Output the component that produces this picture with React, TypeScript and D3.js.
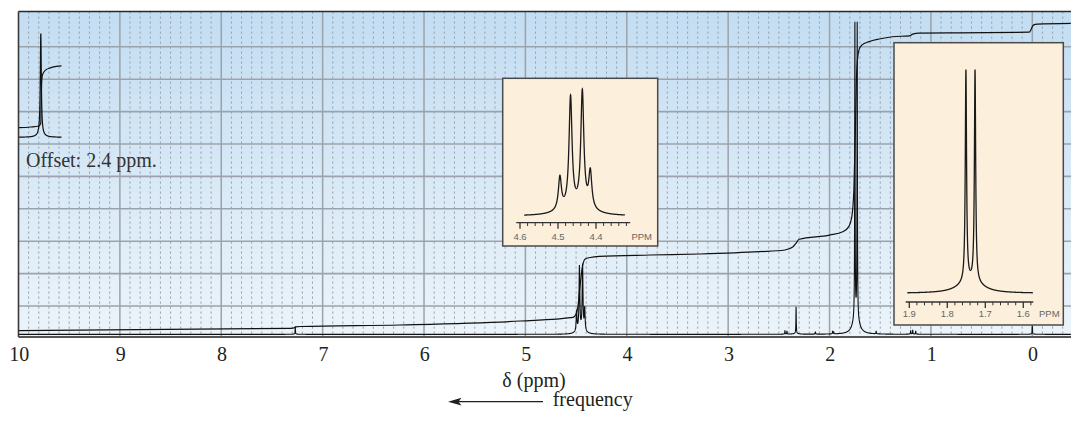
import React from "react";
import * as d3 from "d3";

// ---------------- data ----------------
const xTickValues = [10, 9, 8, 7, 6, 5, 4, 3, 2, 1, 0];
const xTickLabels = ["10", "9", "8", "7", "6", "5", "4", "3", "2", "1", "0"];
const xAxisTitle = "δ (ppm)";
const frequencyLabel = "frequency";
const offsetLabel = "Offset: 2.4 ppm.";

// main spectrum: peak position (ppm), height (% of chart), natural half-width (ppm)
const mainPeakPpm = [7.27, 4.495, 4.467, 4.436, 4.415, 2.44, 2.42, 2.33, 2.14, 1.97, 1.96, 1.75, 1.727, 1.54, 1.2, 1.18, 1.15, 0.0];
const mainPeakHeight = [2.3, 6.5, 20.3, 20.6, 7.0, 1.2, 1.0, 8.5, 0.8, 0.9, 0.7, 93.8, 93.8, 0.9, 1.2, 1.3, 1.0, 2.7];
const mainPeakWidth = [0.002, 0.0046, 0.0046, 0.0046, 0.0046, 0.002, 0.002, 0.002, 0.002, 0.002, 0.002, 0.0022, 0.0022, 0.002, 0.002, 0.002, 0.002, 0.002];
const spectrumBaseline = 1.25;
const spectrumRange = [10, -0.38];

// offset region (COOH shifted by 2.4 ppm)
const offsetShift = 2.4;
const offsetPeakPpm = [12.18];
const offsetPeakHeight = [32];
const offsetPeakWidth = [0.006];
const offsetBaseline = 62.07;
const offsetRange = [12.4, 11.976];
const offsetIntegralPpm = [12.4, 12.28, 12.2, 12.18, 12.176, 12.17, 12.164, 12.134, 12.085, 11.976];
const offsetIntegralValue = [65.03, 65.25, 65.56, 66.4, 73.6, 79.75, 81.3, 82.8, 83.5, 84.1];

// main integral trace (ppm, % of chart)
const integralPpm = [10, 7.32, 7.29, 7.266, 7.22, 6.24, 5.05, 4.53, 4.5, 4.48, 4.46, 4.44, 4.41, 4.36, 4.27, 3.77, 3.28, 2.69, 2.44, 2.36, 2.33, 2.3, 2.0, 1.87, 1.81, 1.78, 1.76, 1.745, 1.735, 1.725, 1.71, 1.68, 1.61, 1.51, 1.38, 1.21, 1.18, 1.12, 0.72, 0.03, 0.01, -0.01, -0.05, -0.38];
const integralValue = [2.38, 3.12, 3.15, 3.58, 3.67, 4.14, 5.37, 6.51, 7.53, 10.3, 16.5, 21.7, 24.5, 24.97, 25.3, 25.74, 26.05, 26.76, 27.28, 28.3, 29.4, 30.6, 31.9, 32.9, 34.5, 37.6, 45.8, 64.3, 79.8, 85.9, 89.0, 90.6, 91.6, 92.4, 93.1, 93.4, 93.9, 94.2, 94.3, 94.5, 95.5, 96.7, 97.0, 97.25];

// quartet expansion
const quartetPpm = [4.495, 4.467, 4.436, 4.415];
const quartetHeight = [26, 88, 92, 29];
const quartetWidth = [0.0048, 0.0048, 0.0048, 0.0048];
const quartetRange = [4.589, 4.324];
const quartetAxisRange = [4.61, 4.31];
const quartetTickValues = [4.6, 4.58, 4.56, 4.54, 4.52, 4.5, 4.48, 4.46, 4.44, 4.42, 4.4, 4.38, 4.36, 4.34, 4.32];
const quartetTickLabels = ["4.6", "4.5", "4.4"];

// doublet expansion
const doubletPpm = [1.751, 1.727];
const doubletHeight = [97.2, 97.2];
const doubletWidth = [0.002, 0.002];
const doubletRange = [1.905, 1.575];
const doubletAxisRange = [1.9095, 1.5737];
const doubletTickValues = [1.9, 1.88, 1.86, 1.84, 1.82, 1.8, 1.78, 1.76, 1.74, 1.72, 1.7, 1.68, 1.66, 1.64, 1.62, 1.6, 1.58];
const doubletTickLabels = ["1.9", "1.8", "1.7", "1.6"];
const ppmUnit = "PPM";

// line shape tail
const BROAD_W = 0.032;
const BROAD_A = 0.03;

// ---------------- helpers ----------------
type Peak = { p: number; h: number; w: number };
const makePeaks = (ppm: number[], h: number[], w: number[]): Peak[] =>
  ppm.map((p, i) => ({ p, h: h[i], w: w[i] }));

function intensity(ppm: number, peaks: Peak[]) {
  let s = 0;
  for (const pk of peaks) {
    const d = ppm - pk.p;
    s +=
      pk.h *
      ((1 - BROAD_A) * (pk.w * pk.w) / (d * d + pk.w * pk.w) +
        BROAD_A * (BROAD_W * BROAD_W) / (d * d + BROAD_W * BROAD_W));
  }
  return s;
}

function sampleGrid(from: number, to: number, step: number, peaks: Peak[]) {
  const n = Math.ceil((from - to) / step);
  const pts = d3.range(n + 1).map((i) => Math.max(to, from - i * step));
  peaks.forEach((pk) => {
    if (pk.p <= from && pk.p >= to) pts.push(pk.p);
  });
  pts.sort((a, b) => b - a);
  return pts;
}

const W = 1071;
const H = 422;
const plotLeft = 18.5;
const plotRight = 1071;
const plotTop = 11.5;
const plotBottom = 337;

const xMain = d3.scaleLinear().domain([10, 0]).range([18.5, 1032.3]);
const yMain = d3.scaleLinear().domain([0, 100]).range([338.4, 14.4]);

function Inset(props: {
  box: [number, number, number, number];
  x: d3.ScaleLinear<number, number>;
  y: d3.ScaleLinear<number, number>;
  peaks: Peak[];
  range: number[];
  axisY: number;
  axisRange: number[];
  ticks: number[];
  labels: string[];
  labelY: number;
  unitX: number;
}) {
  const { box, x, y, peaks, range, axisY, axisRange, ticks, labels, labelY, unitX } = props;
  const pts = sampleGrid(range[0], range[1], 0.0002, peaks);
  const line = d3
    .line<number>()
    .x((p) => x(p))
    .y((p) => y(intensity(p, peaks)));
  const isMajor = (v: number) => Math.abs(v * 10 - Math.round(v * 10)) < 1e-6;
  return (
    <g>
      <rect x={box[0]} y={box[1]} width={box[2] - box[0]} height={box[3] - box[1]} fill="#fcefdc" stroke="#4a4a4a" strokeWidth={1.5} />
      <path d={line(pts) || ""} fill="none" stroke="#1a1a1a" strokeWidth={1.3} />
      <line x1={x(axisRange[0])} x2={x(axisRange[1])} y1={axisY} y2={axisY} stroke="#333" strokeWidth={1.3} />
      {ticks.map((t, i) => (
        <line key={i} x1={x(t)} x2={x(t)} y1={axisY} y2={axisY + (isMajor(t) ? 6 : 3.3)} stroke="#333" strokeWidth={isMajor(t) ? 1.3 : 1} />
      ))}
      {labels.map((l, i) => (
        <text key={i} x={x(+l)} y={labelY} textAnchor="middle" fontFamily="Liberation Sans, Arial, sans-serif" fontSize={9.5} fill="#666">
          {l}
        </text>
      ))}
      <text x={unitX} y={labelY} textAnchor="middle" fontFamily="Liberation Sans, Arial, sans-serif" fontSize={9.5} fill="#666">
        {ppmUnit}
      </text>
    </g>
  );
}

export default function App() {
  const mainPeaks = makePeaks(mainPeakPpm, mainPeakHeight, mainPeakWidth);
  const mainPts = sampleGrid(spectrumRange[0], spectrumRange[1], 0.001, mainPeaks);
  const specLine = d3
    .line<number>()
    .x((p) => xMain(p))
    .y((p) => yMain(spectrumBaseline + intensity(p, mainPeaks)));

  const offPeaks = makePeaks(offsetPeakPpm, offsetPeakHeight, offsetPeakWidth);
  const offPts = sampleGrid(offsetRange[0], offsetRange[1], 0.0005, offPeaks);
  const offLine = d3
    .line<number>()
    .x((p) => xMain(p - offsetShift))
    .y((p) => yMain(offsetBaseline + intensity(p, offPeaks)));

  const integralLine = d3
    .line<number>()
    .x((_, i) => xMain(integralPpm[i]))
    .y((_, i) => yMain(integralValue[i]))
    .curve(d3.curveMonotoneX);
  const offIntegralLine = d3
    .line<number>()
    .x((_, i) => xMain(offsetIntegralPpm[i] - offsetShift))
    .y((_, i) => yMain(offsetIntegralValue[i]))
    .curve(d3.curveMonotoneX);

  const minorX = d3
    .range(0, 105)
    .map((i) => +(10 - i * 0.1).toFixed(2))
    .filter((v) => Math.abs(v - Math.round(v)) > 1e-6 && xMain(v) < plotRight);
  const majorX = xTickValues.filter((v) => v < 10);
  const gridY = yMain.ticks(10).filter((v) => v > 0 && v < 100);

  const xQ = d3.scaleLinear().domain([4.6, 4.4]).range([520, 596]);
  const yQ = d3.scaleLinear().domain([0, 100]).range([216, 86]);
  const xD = d3.scaleLinear().domain([1.9, 1.6]).range([909.3, 1023.3]);
  const yD = d3.scaleLinear().domain([0, 100]).range([293.3, 69]);

  return (
    <div style={{ position: "fixed", left: 0, top: 0 }}>
      <svg width={W} height={H} viewBox={`0 0 ${W} ${H}`} style={{ display: "block", background: "#fff" }}>
        <defs>
          <linearGradient id="bg" x1="0" y1="0" x2="0" y2="1">
            <stop offset="0" stopColor="#c3ddf2" />
            <stop offset="1" stopColor="#ecf4fa" />
          </linearGradient>
          <clipPath id="plotClip">
            <rect x={plotLeft} y={plotTop} width={plotRight - plotLeft} height={plotBottom - plotTop} />
          </clipPath>
        </defs>
        <rect x={plotLeft} y={plotTop} width={plotRight - plotLeft} height={plotBottom - plotTop} fill="url(#bg)" />
        <g clipPath="url(#plotClip)">
          {minorX.map((v, i) => (
            <line key={"mx" + i} x1={xMain(v)} x2={xMain(v)} y1={plotTop} y2={plotBottom} stroke="#97a2ac" strokeWidth={1} strokeDasharray="2.2,2.8" />
          ))}
          {gridY.map((v, i) => (
            <line key={"gy" + i} x1={plotLeft} x2={plotRight} y1={yMain(v)} y2={yMain(v)} stroke="#9ba3aa" strokeWidth={1.6} />
          ))}
          {majorX.map((v, i) => (
            <line key={"gx" + i} x1={xMain(v)} x2={xMain(v)} y1={plotTop} y2={plotBottom} stroke="#9ba3aa" strokeWidth={1.5} />
          ))}
          <path d={specLine(mainPts) || ""} fill="none" stroke="#111" strokeWidth={1.1} />
          <path d={integralLine(integralPpm) || ""} fill="none" stroke="#111" strokeWidth={1.2} />
          <path d={offLine(offPts) || ""} fill="none" stroke="#111" strokeWidth={1.2} />
          <path d={offIntegralLine(offsetIntegralPpm) || ""} fill="none" stroke="#111" strokeWidth={1.2} />
        </g>
        <line x1={plotLeft} x2={plotRight} y1={plotTop} y2={plotTop} stroke="#2a2a2a" strokeWidth={1.6} />
        <line x1={plotLeft} x2={plotLeft} y1={plotTop} y2={plotBottom} stroke="#3a3a3a" strokeWidth={1.6} />
        <line x1={plotLeft} x2={plotRight} y1={plotBottom} y2={plotBottom} stroke="#555" strokeWidth={2} />

        <text x={26} y={166.5} fontFamily="Liberation Serif, Times New Roman, serif" fontSize={20} fill="#333">
          {offsetLabel}
        </text>

        <Inset box={[502.7, 78.3, 657.7, 246]} x={xQ} y={yQ} peaks={makePeaks(quartetPpm, quartetHeight, quartetWidth)} range={quartetRange} axisY={222.7} axisRange={quartetAxisRange} ticks={quartetTickValues} labels={quartetTickLabels} labelY={239.5} unitX={641.7} />
        <Inset box={[894, 42.7, 1063.3, 325]} x={xD} y={yD} peaks={makePeaks(doubletPpm, doubletHeight, doubletWidth)} range={doubletRange} axisY={302} axisRange={doubletAxisRange} ticks={doubletTickValues} labels={doubletTickLabels} labelY={317} unitX={1049.3} />

        {xTickValues.map((v, i) => (
          <text key={"xt" + i} x={xMain(v) + 0.8} y={360.7} textAnchor="middle" fontFamily="Liberation Serif, Times New Roman, serif" fontSize={20} fill="#231f20">
            {xTickLabels[i]}
          </text>
        ))}
        <text x={534} y={386.5} textAnchor="middle" fontFamily="Liberation Serif, Times New Roman, serif" fontSize={20} fill="#231f20">
          {xAxisTitle}
        </text>
        <line x1={543} x2={456} y1={401.7} y2={401.7} stroke="#231f20" strokeWidth={1.3} />
        <path d="M448,401.7 L461.5,397.8 L458.5,401.7 L461.5,405.6 Z" fill="#231f20" />
        <text x={552.7} y={406} fontFamily="Liberation Serif, Times New Roman, serif" fontSize={20} fill="#231f20">
          {frequencyLabel}
        </text>
      </svg>
    </div>
  );
}
